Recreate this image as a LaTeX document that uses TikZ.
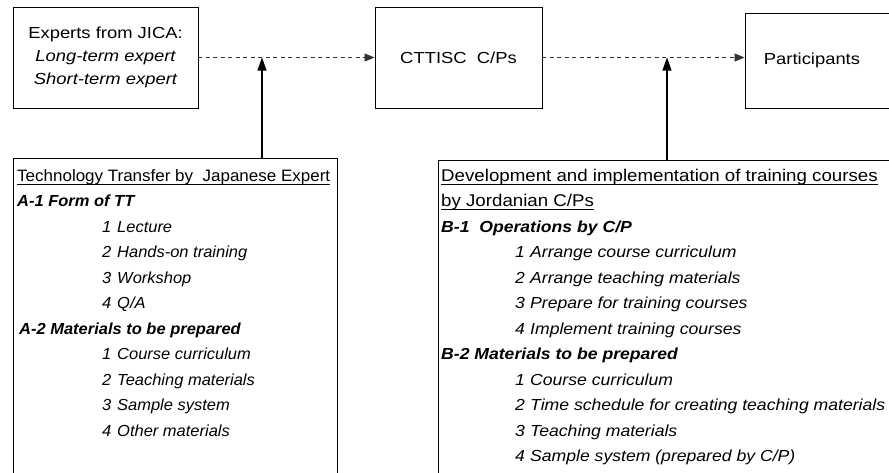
\documentclass[tikz,border=0pt]{standalone}
\usepackage{fontspec}
\setmainfont{Liberation Sans}[FakeStretch=1.15]
\newfontfamily\lfont{Liberation Sans}[FakeStretch=1.03]
\newfontfamily\rfont{Liberation Sans}[FakeStretch=1.1]
\usetikzlibrary{arrows.meta}
\tikzset{
  box/.style={draw, line width=0.9pt, inner sep=0pt},
  topbox/.style={box, align=center, font=\fontsize{16}{23}\selectfont},
  lhead/.style={anchor=base west, inner sep=0pt, font=\lfont\fontsize{16.5}{19}\selectfont},
  lsec/.style={anchor=base west, inner sep=0pt, font=\lfont\fontsize{16}{19}\selectfont\bfseries\itshape},
  litem/.style={anchor=base west, inner sep=0pt, font=\lfont\fontsize{16}{19}\selectfont\itshape},
  rhead/.style={anchor=base west, inner sep=0pt, font=\rfont\fontsize{17}{19}\selectfont},
  rsec/.style={anchor=base west, inner sep=0pt, font=\rfont\fontsize{16}{19}\selectfont\bfseries\itshape},
  ritem/.style={anchor=base west, inner sep=0pt, font=\rfont\fontsize{16}{19}\selectfont\itshape},
  uline/.style={line width=0.8pt},
  dasharrow/.style={draw=black!80, line width=0.8pt, dash pattern=on 4pt off 3.5pt,
    -{Triangle[length=10pt,width=8pt]}},
  uparrow/.style={line width=1.1pt, -{Triangle[length=13pt,width=9pt]}}
}
\begin{document}
\begin{tikzpicture}[x=1pt,y=-1pt]
\useasboundingbox (0,0) rectangle (889,472);
\clip (0,0) rectangle (889,472);
\fill[white] (0,0) rectangle (889,472);

% top boxes
\node[topbox, minimum width=185pt, minimum height=101pt] (jica) at (105.5,57.5)
  {Experts from JICA:\\ \itshape Long-term expert\\ \itshape Short-term expert};
\node[topbox, minimum width=167pt, minimum height=101pt] (ctt) at (458.5,57.5)
  {CTTISC\ \ C/Ps};
\node[topbox, minimum width=150pt, minimum height=95pt] (part) at (820,60.5)
  {Participants\hspace{16pt}};

% bottom boxes
\node[box, minimum width=324pt, minimum height=342pt] (lbox) at (175,329) {};
\node[box, minimum width=462pt, minimum height=340pt] (rbox) at (669,330) {};

% left box text
\node[lhead] (l1) at (17,181) {Technology Transfer by\ \ Japanese Expert};
\draw[uline] ([yshift=-3pt]l1.base west) -- ([yshift=-3pt]l1.base east);
\node[lsec] (l2) at (17,206.5) {A-1 Form of TT};
\node[litem] (l3n) at (102,232) {1}; \node[litem] (l3) at (117,232) {Lecture};
\node[litem] (l4n) at (102,257.5) {2}; \node[litem] (l4) at (117,257.5) {Hands-on training};
\node[litem] (l5n) at (102,283) {3}; \node[litem] (l5) at (117,283) {Workshop};
\node[litem] (l6n) at (102,308.5) {4}; \node[litem] (l6) at (117,308.5) {Q/A};
\node[lsec] (l7) at (19,334) {A-2 Materials to be prepared};
\node[litem] (l8n) at (102,359.5) {1}; \node[litem] (l8) at (117,359.5) {Course curriculum};
\node[litem] (l9n) at (102,385) {2}; \node[litem] (l9) at (117,385) {Teaching materials};
\node[litem] (l10n) at (102,410.5) {3}; \node[litem] (l10) at (117,410.5) {Sample system};
\node[litem] (l11n) at (102,436) {4}; \node[litem] (l11) at (117,436) {Other materials};

% right box text
\node[rhead] (r1) at (441,181) {Development and implementation of training courses};
\draw[uline] ([yshift=-3pt]r1.base west) -- ([yshift=-3pt]r1.base east);
\node[rhead] (r2) at (441,206.5) {by Jordanian C/Ps};
\draw[uline] ([yshift=-3pt]r2.base west) -- ([yshift=-3pt]r2.base east);
\node[rsec] (r3) at (441,232) {B-1\ \ Operations by C/P};
\node[ritem] (r4n) at (515,257.5) {1}; \node[ritem] (r4) at (530,257.5) {Arrange course curriculum};
\node[ritem] (r5n) at (515,283) {2}; \node[ritem] (r5) at (530,283) {Arrange teaching materials};
\node[ritem] (r6n) at (515,308.5) {3}; \node[ritem] (r6) at (530,308.5) {Prepare for training courses};
\node[ritem] (r7n) at (515,334) {4}; \node[ritem] (r7) at (530,334) {Implement training courses};
\node[rsec] (r8) at (441,359.5) {B-2 Materials to be prepared};
\node[ritem] (r9n) at (515,385) {1}; \node[ritem] (r9) at (530,385) {Course curriculum};
\node[ritem] (r10n) at (515,410.5) {2}; \node[ritem] (r10) at (530,410.5) {Time schedule for creating teaching materials};
\node[ritem] (r11n) at (515,436) {3}; \node[ritem] (r11) at (530,436) {Teaching materials};
\node[ritem] (r12n) at (515,461.5) {4}; \node[ritem] (r12) at (530,461.5) {Sample system (prepared by C/P)};

% connectors
\draw[dasharrow] (jica.east) -- (jica.east -| ctt.west);
\draw[dasharrow] (ctt.east) -- (ctt.east -| part.west);
\coordinate (v1) at (262,57.5);
\coordinate (v2) at (667,57.5);
\draw[uparrow] (v1 |- lbox.north) -- (v1);
\draw[uparrow] (v2 |- rbox.north) -- (v2);
\end{tikzpicture}
\end{document}
